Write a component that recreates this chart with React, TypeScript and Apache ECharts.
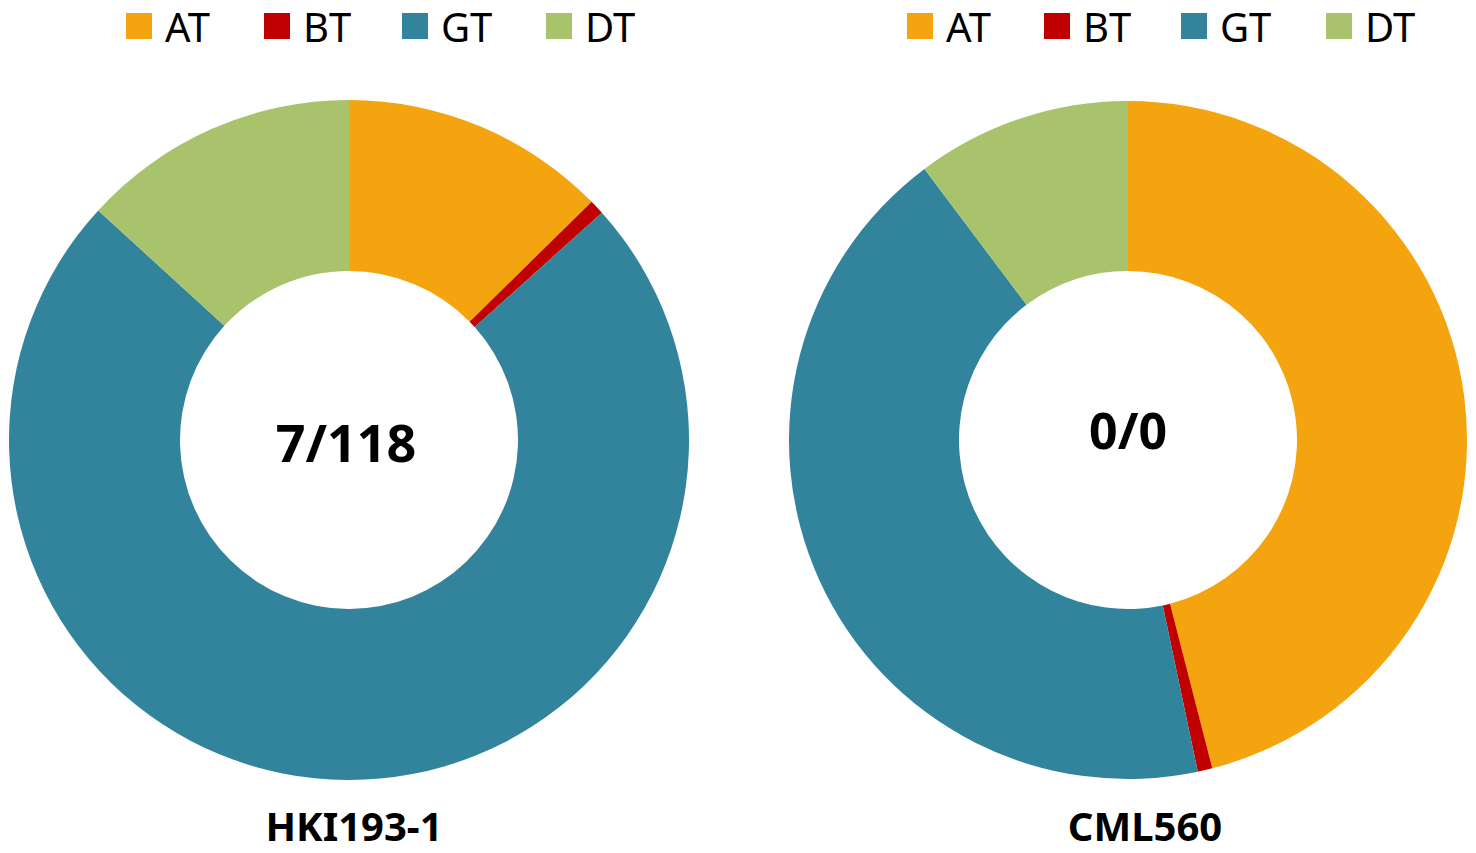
import React, { useEffect, useRef } from "react";
import * as echarts from "echarts";

const categories = ["AT", "BT", "GT", "DT"];
const colors = ["#F3A40E", "#C00000", "#31849B", "#A8C36B"];
const hki193Values = [12.65, 0.7, 73.45, 13.2];
const cml560Values = [46.0, 0.7, 43.05, 10.25];
const chartNames = ["HKI193-1", "CML560"];
const centerLabels = ["7/118", "0/0"];
const legendLeftA = [126, 264, 402, 546];
const legendLeftB = [907, 1044, 1181, 1326];

const FONT = "'Noto Sans', 'DejaVu Sans', sans-serif";

export default function App() {
  const ref = useRef<HTMLDivElement>(null);
  useEffect(() => {
    document.body.style.margin = "0";
    if (!ref.current) return;
    const chart = echarts.init(ref.current, undefined, { renderer: "svg" });
    const mkData = (vals: number[]) =>
      categories.map((c, i) => ({ name: c, value: vals[i], itemStyle: { color: colors[i] } }));
    const mkLegend = (name: string, left: number) => ({
      data: [name],
      top: 6,
      left,
      padding: 0,
      itemWidth: 26,
      itemHeight: 26,
      icon: "rect",
      selectedMode: false,
      textStyle: { fontFamily: FONT, fontSize: 40, color: "#000", padding: [0, 0, 0, 8] },
    });
    const legends = [
      ...categories.map((c, i) => mkLegend(c, legendLeftA[i])),
      ...categories.map((c, i) => mkLegend(c, legendLeftB[i])),
    ];
    const textEl = (text: string, x: number, y: number, size: number) => ({
      type: "text",
      x,
      y,
      style: {
        text,
        fontFamily: FONT,
        fontWeight: "bold",
        fontSize: size,
        lineHeight: size,
        fill: "#000",
        align: "center",
        verticalAlign: "middle",
      },
    });
    chart.setOption({
      animation: false,
      backgroundColor: "#fff",
      legend: legends,
      series: [
        {
          type: "pie",
          center: [349, 440],
          radius: [169, 340],
          startAngle: 90,
          clockwise: true,
          label: { show: false },
          labelLine: { show: false },
          emphasis: { disabled: true },
          itemStyle: { borderWidth: 0 },
          data: mkData(hki193Values),
        },
        {
          type: "pie",
          center: [1128, 440],
          radius: [169, 339],
          startAngle: 90,
          clockwise: true,
          label: { show: false },
          labelLine: { show: false },
          emphasis: { disabled: true },
          itemStyle: { borderWidth: 0 },
          data: mkData(cml560Values),
        },
      ],
      graphic: [
        textEl(centerLabels[0], 346, 441, 52),
        textEl(centerLabels[1], 1128, 430, 50),
        textEl(chartNames[0], 354, 825, 40),
        textEl(chartNames[1], 1145, 825, 40),
      ],
    });
    return () => chart.dispose();
  }, []);
  return <div ref={ref} style={{ width: 1476, height: 853 }} />;
}
